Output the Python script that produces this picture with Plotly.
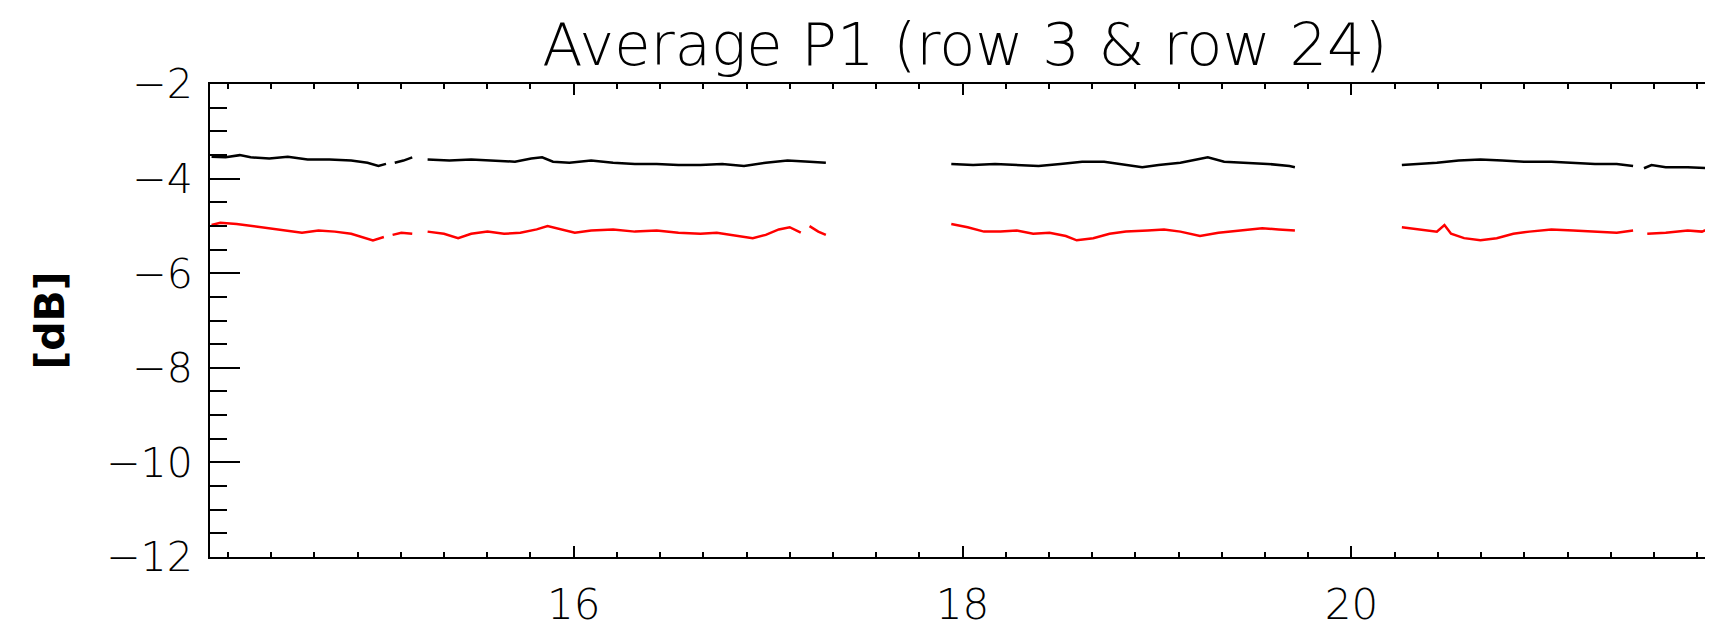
import plotly.graph_objects as go

# Hours (x) and dB values; None marks data gaps
time_row3 = [14.138, 14.210, 14.283, 14.339, 14.435, 14.530, 14.632, 14.744, 14.856, 14.940, 14.996, 15.035, None,
             15.080, 15.125, 15.170, None,
             15.249, 15.361, 15.473, 15.585, 15.698, 15.782, 15.838, 15.894, 15.978, 16.090, 16.203, 16.315, 16.427,
             16.539, 16.652, 16.764, 16.876, 16.988, 17.100, 17.213, 17.297, None,
             17.942, 18.054, 18.167, 18.279, 18.391, 18.503, 18.615, 18.728, 18.840, 18.924, 19.008, 19.120, 19.204,
             19.261, 19.345, 19.457, 19.569, 19.681, 19.709, None,
             20.259, 20.354, 20.439, 20.551, 20.663, 20.775, 20.887, 21.028, 21.140, 21.252, 21.364, 21.448, None,
             21.504, 21.543, 21.616, 21.729, 21.858]
db_row3 = [-3.538, -3.550, -3.504, -3.550, -3.573, -3.538, -3.596, -3.596, -3.619, -3.665, -3.735, -3.689, None,
           -3.665, -3.619, -3.550, None,
           -3.596, -3.619, -3.596, -3.619, -3.642, -3.573, -3.550, -3.642, -3.665, -3.619, -3.665, -3.689, -3.689,
           -3.712, -3.712, -3.689, -3.735, -3.665, -3.619, -3.642, -3.665, None,
           -3.689, -3.712, -3.689, -3.712, -3.735, -3.689, -3.642, -3.642, -3.712, -3.758, -3.712, -3.665, -3.596,
           -3.550, -3.642, -3.665, -3.689, -3.735, -3.758, None,
           -3.712, -3.689, -3.665, -3.619, -3.596, -3.619, -3.642, -3.642, -3.665, -3.689, -3.689, -3.735, None,
           -3.781, -3.712, -3.758, -3.758, -3.781]

time_row24 = [14.138, 14.183, 14.267, 14.351, 14.435, 14.519, 14.603, 14.688, 14.772, 14.856, 14.923, 14.968, 15.024, None,
              15.069, 15.114, 15.170, None,
              15.249, 15.333, 15.406, 15.473, 15.557, 15.642, 15.726, 15.810, 15.866, 15.933, 16.006, 16.090, 16.203,
              16.315, 16.427, 16.539, 16.652, 16.736, 16.820, 16.921, 16.988, 17.055, 17.111, 17.168, None,
              17.213, 17.258, 17.297, None,
              17.942, 18.026, 18.110, 18.195, 18.279, 18.363, 18.447, 18.531, 18.587, 18.672, 18.756, 18.840, 18.952,
              19.036, 19.120, 19.221, 19.316, 19.429, 19.541, 19.625, 19.709, None,
              20.259, 20.343, 20.439, 20.478, 20.512, 20.579, 20.663, 20.747, 20.832, 20.915, 21.028, 21.140, 21.252,
              21.364, 21.448, None,
              21.521, 21.616, 21.729, 21.802, 21.858]
db_row24 = [-4.982, -4.936, -4.959, -5.005, -5.051, -5.097, -5.144, -5.097, -5.121, -5.167, -5.259, -5.305, -5.236, None,
            -5.190, -5.144, -5.167, None,
            -5.121, -5.167, -5.259, -5.167, -5.121, -5.167, -5.144, -5.074, -5.005, -5.074, -5.144, -5.097, -5.074,
            -5.121, -5.097, -5.144, -5.167, -5.144, -5.190, -5.259, -5.190, -5.074, -5.028, -5.144, None,
            -5.005, -5.121, -5.190, None,
            -4.959, -5.028, -5.121, -5.121, -5.097, -5.167, -5.144, -5.213, -5.305, -5.259, -5.167, -5.121, -5.097,
            -5.074, -5.121, -5.213, -5.144, -5.097, -5.051, -5.074, -5.097, None,
            -5.028, -5.074, -5.121, -4.982, -5.167, -5.259, -5.305, -5.259, -5.167, -5.121, -5.074, -5.097, -5.121,
            -5.144, -5.097, None,
            -5.167, -5.144, -5.097, -5.121, -5.028]

x_range = [14.13, 21.859]
y_range = [-12, -2]
title_text = "Average P1 (row 3 & row 24)"
y_title = "[dB]"

FONT = "DejaVu Sans"

fig = go.Figure()
fig.add_trace(go.Scatter(x=time_row3, y=db_row3, mode="lines", connectgaps=False,
                         line=dict(color="#000000", width=2.5), name="row 3"))
fig.add_trace(go.Scatter(x=time_row24, y=db_row24, mode="lines", connectgaps=False,
                         line=dict(color="#ff0000", width=2.5), name="row 24"))

# page body adds an 8px offset, so the figure is 8px smaller and margins shifted
fig.update_layout(
    width=1705, height=630,
    margin=dict(l=202, r=0, t=76, b=81, autoexpand=False),
    plot_bgcolor="white", paper_bgcolor="white",
    showlegend=False,
    font=dict(family=FONT, color="black", weight=200),
    title=dict(text=title_text, x=0.5023, xref="paper", xanchor="center",
               y=0.942, yref="container", yanchor="middle",
               font=dict(family=FONT, size=59, color="black", weight=200)),
    xaxis=dict(range=x_range, showline=True, linewidth=2, linecolor="black", mirror="ticks",
               ticks="inside", ticklen=11, tickwidth=2, tickcolor="black",
               tick0=16, dtick=2, showgrid=False, zeroline=False, automargin=False,
               tickfont=dict(family=FONT, size=42, color="black", weight=200),
               ticklabelstandoff=10,
               minor=dict(tick0=16, dtick=2 / 9, ticks="inside", ticklen=5, tickwidth=2,
                          tickcolor="black", showgrid=False)),
    yaxis=dict(range=y_range, showline=True, linewidth=2, linecolor="black", mirror=False,
               ticks="inside", ticklen=30, tickwidth=2, tickcolor="black",
               tick0=-12, dtick=2, showgrid=False, zeroline=False, automargin=False,
               tickfont=dict(family=FONT, size=41, color="black", weight=200),
               ticklabelstandoff=7,
               title=dict(text=y_title, standoff=29,
                          font=dict(family=FONT, size=41, color="black", weight="bold")),
               minor=dict(dtick=0.5, ticks="inside", ticklen=17, tickwidth=2,
                          tickcolor="black", showgrid=False)),
    yaxis2=dict(range=y_range, overlaying="y", side="right", showline=False,
                ticks="inside", ticklen=16, tickwidth=2, tickcolor="black", automargin=False,
                tick0=-12, dtick=2, showticklabels=False, showgrid=False, zeroline=False,
                minor=dict(dtick=0.5, ticks="inside", ticklen=3, tickwidth=2,
                           tickcolor="black", showgrid=False)),
)

fig.write_html("out.html")
